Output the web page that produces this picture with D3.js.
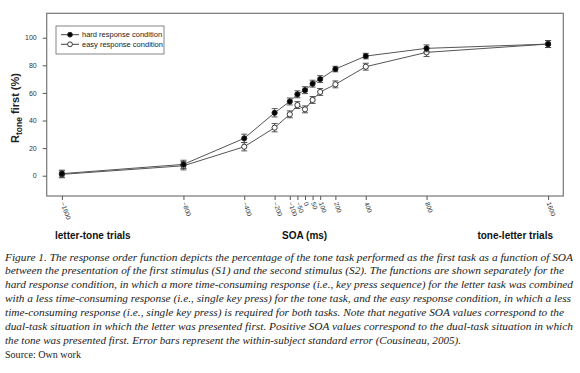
<!DOCTYPE html>
<html>
<head>
<meta charset="utf-8">
<script src="https://cdn.jsdelivr.net/npm/d3@7"></script>
<style>
  body { margin: 0; background: #fff; }
  svg { display: block; }
  .tick text { font-family: "Liberation Sans", Arial, sans-serif; fill: #333; }
</style>
</head>
<body>
<div id="chart"></div>
<script>
// SOA values (ms) and percentage of tone-first responses

var soa = [-1600, -800, -400, -200, -100, -50, 0, 50, 100, 200, 400, 800, 1600];
var hard = [1.5, 8.2, 27.1, 45.6, 53.8, 59, 62, 66.7, 70, 77.3, 86.7, 92.3, 95.4];
var hardSE = [2.5, 3, 3, 3, 2.5, 2.5, 2.5, 2.5, 2.5, 2, 2, 2.5, 2.5];
var easy = [1, 7.2, 21, 34.8, 44.5, 51.2, 48.1, 54.9, 60.7, 66.2, 79, 89.4, 95.4];
var easySE = [2.5, 3, 3, 3, 2.5, 2.5, 2.5, 2.5, 2.5, 2.5, 2.5, 3, 2.5];
var yTicks = [0, 20, 40, 60, 80, 100];
var seriesNames = ["hard response condition", "easy response condition"];

var captionLines = [
  "Figure 1. The response order function depicts the percentage of the tone task performed as the first task as a function of SOA",
  "between the presentation of the first stimulus (S1) and the second stimulus (S2). The functions are shown separately for the",
  "hard response condition, in which a more time-consuming response (i.e., key press sequence) for the letter task was combined",
  "with a less time-consuming response (i.e., single key press) for the tone task, and the easy response condition, in which a less",
  "time-consuming response (i.e., single key press) is required for both tasks. Note that negative SOA values correspond to the",
  "dual-task situation in which the letter was presented first. Positive SOA values correspond to the dual-task situation in which",
  "the tone was presented first. Error bars represent the within-subject standard error (Cousineau, 2005)."
];

// layout

var W = 580, H = 373;
var plot = {left: 46.7, right: 563.3, top: 13.3, bottom: 196};
var lineWidths = [568, 559, 568, 566, 559, 568, 456];

var svg = d3.select("#chart").append("svg")
  .attr("width", W)
  .attr("height", H);

var x = d3.scaleLinear().domain([-1700, 1700]).range([plot.left, plot.right]);
var y = d3.scaleLinear().domain([-14.7, 117.7]).range([plot.bottom, plot.top]);

// frame
svg.append("rect")
  .attr("x", plot.left)
  .attr("y", plot.top)
  .attr("width", plot.right - plot.left)
  .attr("height", plot.bottom - plot.top)
  .attr("fill", "none")
  .attr("stroke", "#777")
  .attr("stroke-width", 1.2);

// x axis
var gx = svg.append("g")
  .attr("transform", "translate(0," + plot.bottom + ")")
  .call(d3.axisBottom(x).tickValues(soa).tickFormat(d3.format("d")).tickSize(4).tickSizeOuter(0));
gx.select(".domain").remove();
gx.selectAll(".tick line").attr("stroke", "#555");
gx.selectAll(".tick text")
  .style("font-size", "6.5px")
  .attr("text-anchor", "start")
  .attr("dy", null)
  .attr("y", 0)
  .attr("transform", "translate(-2,7) rotate(70)");

// y axis
var gy = svg.append("g")
  .attr("transform", "translate(" + plot.left + ",0)")
  .call(d3.axisLeft(y).tickValues(yTicks).tickSize(4).tickPadding(6));
gy.select(".domain").remove();
gy.selectAll(".tick line").attr("stroke", "#555");
gy.selectAll(".tick text").style("font-size", "7px");

// y axis title
var yt = svg.append("text")
  .attr("transform", "translate(19,108) rotate(-90)")
  .attr("text-anchor", "middle")
  .style("font-family", "Liberation Sans, Arial, sans-serif")
  .style("font-weight", "bold")
  .style("font-size", "11px")
  .attr("fill", "#222");
yt.append("tspan").text("R");
yt.append("tspan").attr("dy", 3).style("font-size", "8.5px").text("tone");
yt.append("tspan").attr("dy", -3).text(" first (%)");

// lines, error bars, markers
var line = d3.line()
  .x(function(d) { return x(d.soa); })
  .y(function(d) { return y(d.v); });

var series = [
  {name: seriesNames[0], values: hard, se: hardSE, fill: "#000"},
  {name: seriesNames[1], values: easy, se: easySE, fill: "#fff"}
];

series.slice().reverse().forEach(function(s) {
  var pts = soa.map(function(t, i) { return {soa: t, v: s.values[i], se: s.se[i]}; });

  svg.append("path")
    .datum(pts)
    .attr("d", line)
    .attr("fill", "none")
    .attr("stroke", "#555")
    .attr("stroke-width", 1);

  var eb = svg.append("g").selectAll("g")
    .data(pts).enter().append("g")
    .attr("stroke", "#444")
    .attr("stroke-width", 0.9);
  eb.append("line")
    .attr("x1", function(d) { return x(d.soa); })
    .attr("x2", function(d) { return x(d.soa); })
    .attr("y1", function(d) { return y(d.v - d.se); })
    .attr("y2", function(d) { return y(d.v + d.se); });
  [-1, 1].forEach(function(sgn) {
    eb.append("line")
      .attr("x1", function(d) { return x(d.soa) - 3; })
      .attr("x2", function(d) { return x(d.soa) + 3; })
      .attr("y1", function(d) { return y(d.v + sgn * d.se); })
      .attr("y2", function(d) { return y(d.v + sgn * d.se); });
  });

  svg.append("g").selectAll("circle")
    .data(pts).enter().append("circle")
    .attr("cx", function(d) { return x(d.soa); })
    .attr("cy", function(d) { return y(d.v); })
    .attr("r", 2.6)
    .attr("fill", s.fill)
    .attr("stroke", "#222")
    .attr("stroke-width", 0.9);
});

// legend
svg.append("rect")
  .attr("x", 56).attr("y", 26)
  .attr("width", 108).attr("height", 28)
  .attr("fill", "#fff")
  .attr("stroke", "#666")
  .attr("stroke-width", 0.8);

series.forEach(function(s, i) {
  var ly = 34.7 + i * 9.6;
  svg.append("line")
    .attr("x1", 61).attr("x2", 79)
    .attr("y1", ly).attr("y2", ly)
    .attr("stroke", "#444");
  svg.append("circle")
    .attr("cx", 70).attr("cy", ly).attr("r", 2.4)
    .attr("fill", s.fill).attr("stroke", "#222").attr("stroke-width", 0.9);
  svg.append("text")
    .attr("x", 82).attr("y", ly + 2.5)
    .style("font-family", "Liberation Sans, Arial, sans-serif")
    .style("font-size", "7.5px")
    .attr("fill", "#222")
    .text(s.name);
});

// bottom axis group labels
var groupLabels = [
  {text: "letter-tone trials", x: 55, anchor: "start"},
  {text: "SOA (ms)", x: 282, anchor: "start"},
  {text: "tone-letter trials", x: 553, anchor: "end"}
];
svg.selectAll(".glabel")
  .data(groupLabels).enter().append("text")
  .attr("class", "glabel")
  .attr("x", function(d) { return d.x; })
  .attr("y", 238.5)
  .attr("text-anchor", function(d) { return d.anchor; })
  .style("font-family", "Liberation Sans, Arial, sans-serif")
  .style("font-weight", "bold")
  .style("font-size", "10px")
  .attr("fill", "#111")
  .text(function(d) { return d.text; });

// caption
svg.selectAll(".caption")
  .data(captionLines).enter().append("text")
  .attr("class", "caption")
  .attr("x", 5)
  .attr("y", function(d, i) { return 260.5 + i * 13.9; })
  .style("font-family", "'Liberation Serif', 'DejaVu Serif', serif")
  .style("font-style", "italic")
  .style("font-size", "10.8px")
  .attr("fill", "#222")
  .attr("textLength", function(d, i) { return lineWidths[i]; })
  .attr("lengthAdjust", "spacingAndGlyphs")
  .text(function(d) { return d; });

svg.append("text")
  .attr("x", 5)
  .attr("y", 357.5)
  .style("font-family", "'Liberation Serif', 'DejaVu Serif', serif")
  .style("font-size", "11px")
  .attr("fill", "#222")
  .attr("textLength", 76)
  .attr("lengthAdjust", "spacingAndGlyphs")
  .text("Source: Own work");
</script>
</body>
</html>
